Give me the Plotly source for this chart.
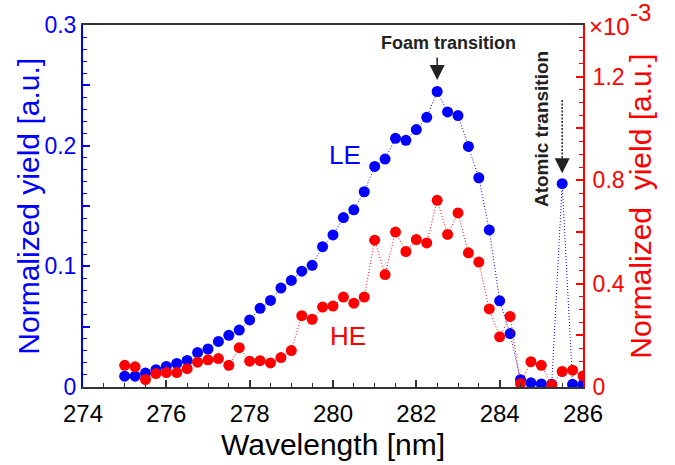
import plotly.graph_objects as go

wavelength = [275.0, 275.25, 275.5, 275.75, 276.0, 276.25, 276.5, 276.75, 277.0, 277.25,
              277.5, 277.75, 278.0, 278.25, 278.5, 278.75, 279.0, 279.25, 279.5, 279.75,
              280.0, 280.25, 280.5, 280.75, 281.0, 281.25, 281.5, 281.75, 282.0, 282.25,
              282.5, 282.75, 283.0, 283.25, 283.5, 283.75, 284.0, 284.25, 284.5, 284.75,
              285.0, 285.25, 285.5, 285.75, 286.0]

le_yield = [0.0090, 0.0090, 0.0115, 0.0143, 0.0170, 0.0195, 0.0220, 0.0285, 0.0315, 0.0378,
            0.0428, 0.0472, 0.0556, 0.0652, 0.0717, 0.0820, 0.0883, 0.0960, 0.1008, 0.1163,
            0.1260, 0.1404, 0.1468, 0.1618, 0.1828, 0.1889, 0.2061, 0.2044, 0.2133, 0.2235,
            0.2449, 0.2280, 0.2249, 0.1994, 0.1734, 0.1302, 0.0714, 0.0443, 0.0060, 0.0035,
            0.0025, 0.0022, 0.1685, 0.0022, 0.0022]

he_yield_e3 = [0.084, 0.078, 0.029, 0.052, 0.056, 0.056, 0.071, 0.096, 0.105, 0.110,
               0.084, 0.152, 0.100, 0.102, 0.093, 0.114, 0.141, 0.276, 0.262, 0.309,
               0.313, 0.348, 0.324, 0.348, 0.568, 0.435, 0.599, 0.524, 0.570, 0.557,
               0.722, 0.590, 0.673, 0.519, 0.483, 0.302, 0.194, 0.273, 0.013, 0.098,
               0.084, 0.008, 0.060, 0.065, 0.043]

x_ticks = [274, 276, 278, 280, 282, 284, 286]
left_tickvals = [0, 0.05, 0.1, 0.15, 0.2, 0.25, 0.3]
left_ticktext = ["0", "", "0.1", "", "0.2", "", "0.3"]
right_tickvals = [0, 0.2, 0.4, 0.6, 0.8, 1.0, 1.2, 1.4]
right_ticktext = ["0", "", "0.4", "", "0.8", "", "1.2", ""]

BLUE = "#0000ff"
RED = "#ff0000"
DARK = "#222222"
FONT = "Liberation Sans, Arial, sans-serif"

fig = go.Figure()
fig.add_trace(go.Scatter(
    x=wavelength, y=le_yield, mode="lines+markers", yaxis="y",
    line=dict(color=BLUE, width=1, dash="1px,2px"),
    marker=dict(color=BLUE, size=11), showlegend=False))
fig.add_trace(go.Scatter(
    x=wavelength, y=he_yield_e3, mode="lines+markers", yaxis="y2",
    line=dict(color=RED, width=1, dash="1px,2px"),
    marker=dict(color=RED, size=11), showlegend=False))

fig.update_layout(
    width=675, height=465,
    margin=dict(l=83, r=92, t=25, b=78),
    paper_bgcolor="white", plot_bgcolor="white",
    font=dict(family=FONT),
    xaxis=dict(range=[274, 286], tickvals=x_ticks, ticks="inside", ticklen=7,
               tickwidth=1.5, tickcolor="#333", linecolor="#333", linewidth=2,
               mirror=True, showgrid=False, zeroline=False,
               tickfont=dict(size=24, color="black", family=FONT),
               ticklabelstandoff=4,
               minor=dict(dtick=0.5, ticks="inside", ticklen=4, tickcolor="#333", tickwidth=1)),
    yaxis=dict(range=[0, 0.3], tickvals=left_tickvals, ticktext=left_ticktext,
               ticks="inside", ticklen=7, tickwidth=1.5, tickcolor=BLUE,
               linecolor=BLUE, linewidth=2, showgrid=False, zeroline=False,
               tickfont=dict(size=23, color=BLUE, family=FONT),
               minor=dict(dtick=0.01, ticks="inside", ticklen=4, tickcolor=BLUE, tickwidth=1)),
    yaxis2=dict(range=[0, 1.4], tickvals=right_tickvals, ticktext=right_ticktext,
                overlaying="y", side="right",
                ticks="inside", ticklen=7, tickwidth=1.5, tickcolor=RED,
                linecolor=RED, linewidth=2, showgrid=False, zeroline=False,
                tickfont=dict(size=23, color=RED, family=FONT),
                ticklabelstandoff=3,
                minor=dict(dtick=0.05, ticks="inside", ticklen=4, tickcolor=RED, tickwidth=1)),
)

annotations = [
    dict(text="Wavelength [nm]", xref="paper", yref="paper", x=0.5, y=-0.158,
         showarrow=False, font=dict(size=30, color="black"), xanchor="center", yanchor="middle"),
    dict(text="Normalized yield [a.u.]", xref="paper", yref="paper", x=-0.1106, y=0.5,
         showarrow=False, textangle=-90, font=dict(size=30, color=BLUE),
         xanchor="center", yanchor="middle"),
    dict(text="Normalized  yield [a.u.]", xref="paper", yref="paper", x=1.1134, y=0.5,
         showarrow=False, textangle=-90, font=dict(size=30, color=RED),
         xanchor="center", yanchor="middle"),
    dict(text="×10", xref="paper", yref="paper", x=1.0074, y=0.995,
         showarrow=False, font=dict(size=24, color=RED), xanchor="left", yanchor="middle"),
    dict(text="-3", xref="paper", yref="paper", x=1.0894, y=1.035,
         showarrow=False, font=dict(size=24, color=RED), xanchor="left", yanchor="middle"),
    dict(text="LE", x=280.28, y=0.192, xref="x", yref="y", showarrow=False,
         font=dict(size=26, color=BLUE)),
    dict(text="HE", x=280.35, y=0.042, xref="x", yref="y", showarrow=False,
         font=dict(size=26, color=RED)),
    dict(text="<b>Foam transition</b>", x=282.76, y=0.285, xref="x", yref="y",
         showarrow=False, font=dict(size=18, color=DARK)),
    dict(text="", x=282.5, y=0.2544, xref="x", yref="y", showarrow=True,
         ax=0, ay=-24, arrowhead=2, arrowsize=2.0, arrowwidth=1.5, arrowcolor=DARK),
    dict(text="<b>Atomic transition</b>", x=284.99, y=0.2137, xref="x", yref="y",
         showarrow=False, textangle=-90, font=dict(size=19, color=DARK)),
    dict(text="", x=285.5, y=0.1772, xref="x", yref="y", showarrow=True,
         ax=0, ay=-16, arrowhead=2, arrowsize=2.0, arrowwidth=1.5, arrowcolor=DARK),
]
fig.update_layout(annotations=annotations)

fig.add_shape(type="line", xref="x", yref="y", x0=285.5, x1=285.5, y0=0.2378, y1=0.1880,
              line=dict(color=DARK, width=1.5, dash="2px,1.5px"))

fig.write_html("out.html")
